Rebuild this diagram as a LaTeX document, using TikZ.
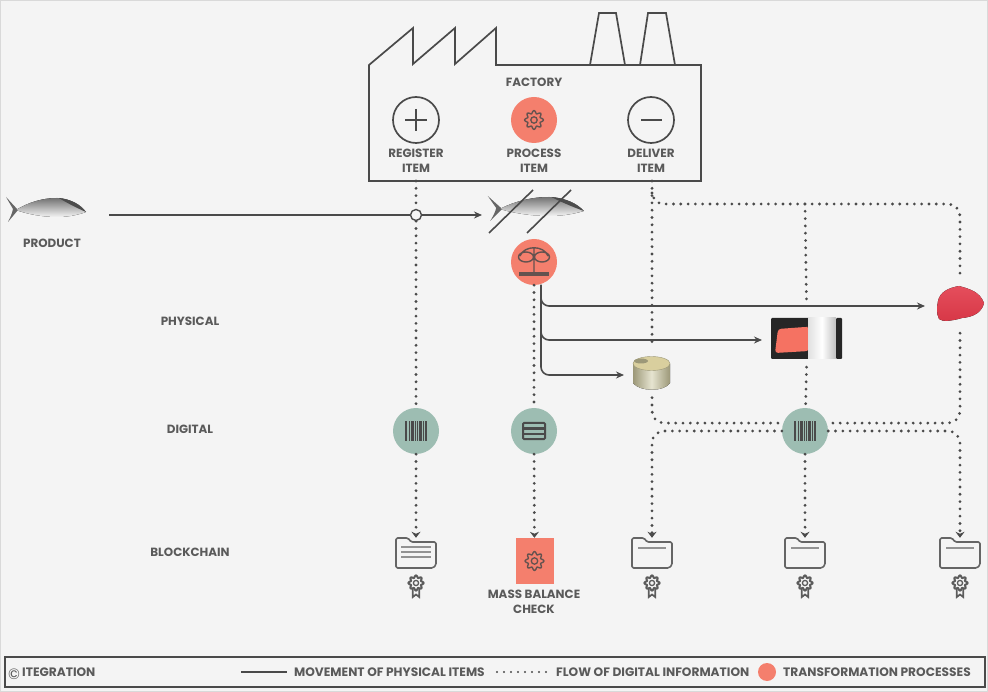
\documentclass[tikz,border=0pt]{standalone}
\usepackage{fontspec}
\setmainfont{Poppins}
\usetikzlibrary{arrows.meta,positioning,calc}
\definecolor{salmon}{HTML}{F47F6D}
\definecolor{sage}{HTML}{9DBDB2}
\definecolor{inkline}{HTML}{4A4A4A}
\definecolor{inktext}{HTML}{5A5A5A}
\definecolor{paper}{HTML}{F4F4F4}
\definecolor{crimson}{HTML}{E23A4A}
\definecolor{cantop}{HTML}{D9CF9E}
\definecolor{canside}{HTML}{9C9878}
\definecolor{canlight}{HTML}{E6E4D0}
\tikzset{
    >={Stealth[length=8pt,width=7pt]},
    lbl/.style={font=\fontsize{11.9}{15}\selectfont\bfseries,text=inktext,align=center,inner sep=0pt},
    legendlbl/.style={font=\fontsize{12.2}{14}\selectfont\bfseries,text=inktext,inner sep=0pt,anchor=west},
    solidflow/.style={draw=inkline,line width=1.6pt},
    dotflow/.style={draw=inkline,line width=3.1pt,line cap=round,dash pattern=on 0pt off 7.3pt},
    dotend/.style={dotflow,-{Stealth[length=6pt,width=9pt]}},
    outline/.style={draw=inkline,line width=1.7pt},
    ring/.style={circle,outline,minimum size=46pt,inner sep=0pt},
    hotdisc/.style={circle,fill=salmon,minimum size=46pt,inner sep=0pt},
    colddisc/.style={circle,fill=sage,minimum size=46pt,inner sep=0pt},
    gear/.pic={
        \draw[draw=inkline!85!salmon,line width=1.4pt] plot[domain=0:360,samples=73,smooth] (\x:{8+1.4*cos(8*\x)}) -- cycle;
        \draw[draw=inkline!85!salmon,line width=1.3pt] (0,0) circle (3.2);
    },
    barcode/.pic={
        \foreach \bx/\bw in {-11/2.4,-7.5/1.6,-5/2.6,-1.5/1.6,.8/1.2,3/2.6,6.5/1.4,8.8/2.4}
            \fill[inkline] (\bx,-9.5) rectangle ++(\bw,19);
    },
    stack/.pic={
        \draw[inkline,line width=2pt,rounded corners=1pt] (-11,-8) rectangle (11,8);
        \fill[inkline] (-11,-3.6) rectangle (11,-1.2);
        \fill[inkline] (-11,1.8) rectangle (11,4.2);
    },
    balance/.pic={
        \draw[inkline!85!salmon,line width=1.4pt]
            (-14,-6) .. controls (-10,-17) and (10,-17) .. (14,-6)
            (0,-14) -- (0,11)
            (-8,-5) ellipse (7.5 and 5) (8,-5) ellipse (7.5 and 5);
        \fill[inkline!85!salmon] (-15,10.5) rectangle (15,14);
    },
    folder/.pic={
        \draw[draw=inkline!85,line width=1.6pt,line join=round,fill=paper,rounded corners=1.5pt]
            (-20,-15) -- (-8,-15) -- (-5,-11) -- (20,-11) -- (20,12) -- (17,15) -- (-20,15) -- cycle;
    },
    rosette/.pic={
        \draw[draw=inkline!90,line width=2pt] plot[domain=0:360,samples=73,smooth] (\x:{6.5+1.1*cos(8*\x)}) -- cycle;
        \draw[draw=inkline!90,line width=1.3pt] (0,0) circle (2.6);
        \draw[draw=inkline!90,line width=1.7pt] (-3.2,6) -- (-3.2,14) -- (0,11.5) -- (3.2,14) -- (3.2,6);
    },
    tuna/.pic={
        \fill[black!60] (-29,0) -- (-41,-13) -- (-34,-1) .. controls (-35,4) and (-37,8) .. (-39,12) -- cycle;
        \fill[top color=black!55,middle color=black!10,bottom color=paper]
            (-31,0) .. controls (-18,-8) and (-4,-12) .. (10,-12) .. controls (24,-11) and (34,-5) .. (39,2)
            .. controls (28,6) and (18,7) .. (10,7) .. controls (-5,7) and (-20,4) .. (-31,0) -- cycle;
        \fill[black!70] (12,-12) .. controls (24,-11) and (34,-5) .. (39,2) .. controls (30,-2) and (20,-7) .. (12,-12) -- cycle;
    }
}

\begin{document}
\begin{tikzpicture}[x=1pt,y=-1pt]
    \useasboundingbox (0,0) rectangle (988,692);
    \fill[paper] (0,0) rectangle (988,692);
    \draw[black!15,line width=1.5pt] (0.5,0.5) rectangle (987.5,691.5);

    % factory
    \draw[outline,line join=miter] (369,65) -- (413,28) -- (413,64) -- (455,28) -- (455,64) -- (496,28) -- (496,65)
        -- (701,65) -- (701,181) -- (369,181) -- cycle;
    \draw[outline] (590,65) -- (599,13) -- (616,13) -- (625,65);
    \draw[outline] (640,65) -- (648,13) -- (666,13) -- (675,65);
    \node[lbl] (factory) at (534,82) {FACTORY};
    \node[ring] (register) at (416,120) {};
    \node[hotdisc] (process) at (534,120) {};
    \node[ring] (deliver) at (651,120) {};
    \draw[outline] (405,120) -- (427,120) (416,109) -- (416,131);
    \draw[outline] (641,120) -- (662,120);
    \pic at (534,120) {gear};
    \node[lbl] (registerlbl) at (416,160.5) {REGISTER\\ITEM};
    \node[lbl] (processlbl) at (534,160.5) {PROCESS\\ITEM};
    \node[lbl] (deliverlbl) at (651,160.5) {DELIVER\\ITEM};
    \coordinate (registerfoot) at (416,181);
    \coordinate (deliverfoot) at (652,181);

    % product
    \pic at (47,210) {tuna};
    \node[lbl] (product) at (52,243) {PRODUCT};
    \coordinate (linestart) at (109,215);
    \pic[xscale=1.2] at (537,209) {tuna};
    \coordinate (fishin) at (482,215);
    \draw[inkline,line width=1.6pt] (489,233) -- (533,190) (527,233) -- (571,190);

    % row labels
    \node[lbl] (physical) at (190,321) {PHYSICAL};
    \node[lbl] (digital) at (190,429) {DIGITAL};
    \node[lbl] (blockchain) at (190,552) {BLOCKCHAIN};

    % physical and digital stations
    \node[hotdisc] (weigh) at (534,262) {};
    \pic at (534,262) {balance};
    \node[colddisc] (scanreg) at (416,431) {};
    \pic at (416,431) {barcode};
    \node[colddisc] (ledger) at (534,431) {};
    \pic at (534,431) {stack};
    \node[colddisc] (scanout) at (805,431) {};
    \pic at (805,431) {barcode};

    % can
    \node[minimum width=38pt,minimum height=50pt,inner sep=0pt] (can) at (652,372.5) {};
    \fill[left color=canside,right color=canside,middle color=canlight]
        (633,364) -- (633,383) .. controls (640,392) and (664,392) .. (670,383) -- (670,364) -- cycle;
    \fill[cantop,draw=canside] (651.5,363.5) ellipse (18.5 and 7);
    \fill[canside] (641,361) ellipse (7 and 2.5);

    % package
    \node[minimum width=71pt,minimum height=64pt,inner sep=0pt] (pack) at (806.5,335) {};
    \fill[black!85,rounded corners=1pt] (771,318) rectangle (809,359);
    \fill[salmon!90!red,rounded corners=3pt] (778,329) -- (805,327) -- (809,327) -- (809,351) -- (775,353) -- cycle;
    \fill[left color=black!12,right color=black!25,middle color=white] (808,318) rectangle (836,359);
    \fill[black!85,rounded corners=1pt] (836,318) rectangle (842,359);

    % meat
    \node[minimum width=46pt,minimum height=56pt,inner sep=0pt] (meat) at (960,305) {};
    \fill[top color=crimson!90!white,bottom color=crimson!95!black] (938,301) .. controls (940,292) and (948,288) .. (959,286)
        .. controls (970,289) and (980,292) .. (984,303) .. controls (982,312) and (974,317) .. (962,318)
        .. controls (952,321) and (942,322) .. (939,319) .. controls (936,313) and (937,306) .. (938,301) -- cycle;

    % blockchain records
    \pic at (416,553) {folder};
    \node[minimum width=40pt,minimum height=30pt,inner sep=0pt] (recreg) at (416,553) {};
    \draw[inkline!60,line width=1.4pt] (401,547) -- (431,547) (401,552) -- (431,552) (401,557) -- (431,557);
    \pic at (416,583) {rosette};
    \node[fill=salmon,minimum width=38pt,minimum height=46pt,inner sep=0pt] (massbox) at (534.5,561) {};
    \pic at (534.5,561) {gear};
    \node[lbl] (masslbl) at (534,602) {MASS BALANCE\\CHECK};
    \foreach \rx/\rname in {652/reccan,805/recpack,960/recmeat}{
        \pic at (\rx,553) {folder};
        \node[minimum width=40pt,minimum height=30pt,inner sep=0pt] (\rname) at (\rx,553) {};
        \draw[inkline!60,line width=1.4pt] (\rx-14,548) -- (\rx+14,548);
        \pic at (\rx,583) {rosette};
    }

    % physical movement
    \draw[solidflow,->] (linestart) -- (fishin);
    \node[circle,draw=inkline,line width=1.4pt,fill=paper,minimum size=11pt,inner sep=0pt] (registerdot) at (416,215) {};
    \coordinate (split) at (541,285);
    \draw[solidflow,->,rounded corners=8pt] (split) |- (925,306);
    \draw[solidflow,->,rounded corners=8pt] (split) |- (762,340);
    \draw[solidflow,->,rounded corners=8pt] (split) |- (624,375);

    % digital flow
    \draw[dotflow] (registerfoot) -- (registerdot);
    \draw[dotflow] (registerdot) -- (scanreg);
    \draw[dotflow] (weigh) -- (ledger);
    \draw[dotend] (scanreg) -- (recreg);
    \draw[dotend] (ledger) -- (massbox);
    \draw[dotflow] (deliverfoot) -- (can);
    \coordinate (topjoin) at (652,193);
    \draw[dotflow,rounded corners=12pt] (topjoin) |- (805,204) -- (960,204) -- (meat.north);
    \draw[dotflow] (805,204) -- (pack.north);
    \draw[dotflow] (pack.south) -- (scanout);

    % to the digital hub and out of it
    \draw[dotflow,rounded corners=12pt] (can.south) |- (scanout.160);
    \draw[dotflow,rounded corners=12pt] (meat.south) |- (scanout.20);
    \draw[dotend,rounded corners=12pt] (scanout.180) -| (reccan.north);
    \draw[dotend,rounded corners=12pt] (scanout.0) -| (recmeat.north);
    \draw[dotend] (scanout) -- (recpack);

    % legend
    \draw[draw=inkline,line width=1.7pt] (5,657) rectangle (985,687);
    \node[font=\fontsize{15}{15}\selectfont,text=inktext,inner sep=0pt] (copyr) at (14,674) {©};
    \node[legendlbl] (integration) at (22,672) {ITEGRATION};
    \node[legendlbl] (movelbl) at (294,672) {MOVEMENT OF PHYSICAL ITEMS};
    \coordinate (legstart) at (241,672);
    \draw[solidflow] (legstart) -- ($(movelbl.west)+(-7,0)$);
    \node[legendlbl] (flowlbl) at (556,672) {FLOW OF DIGITAL INFORMATION};
    \coordinate (dotstart) at (497,672);
    \draw[dotflow,line width=2.4pt,dash pattern=on 0pt off 7pt] (dotstart) -- ($(flowlbl.west)+(-5,0)$);
    \node[circle,fill=salmon,minimum size=18pt,inner sep=0pt] (legdisc) at (767,672) {};
    \node[legendlbl] (translbl) at (783,672) {TRANSFORMATION PROCESSES};
\end{tikzpicture}
\end{document}
